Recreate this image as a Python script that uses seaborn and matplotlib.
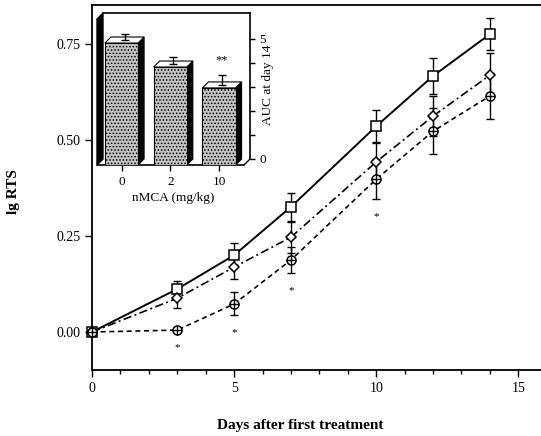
import matplotlib
matplotlib.use("Agg")
import matplotlib.pyplot as plt
from matplotlib.patches import Polygon
from matplotlib.ticker import MultipleLocator
import seaborn as sns
import pandas as pd

# ---------------- data ----------------
days = [0, 3, 5, 7, 10, 12, 14]
ctrl = [0.0, 0.112, 0.200, 0.326, 0.536, 0.667, 0.776]
ctrl_err = [0.0, 0.021, 0.031, 0.037, 0.042, 0.047, 0.042]
dose2 = [0.0, 0.088, 0.169, 0.247, 0.443, 0.5625, 0.669]
dose2_err = [0.0, 0.026, 0.031, 0.040, 0.050, 0.052, 0.057]
dose10 = [0.0, 0.005, 0.073, 0.1875, 0.398, 0.523, 0.615]
dose10_err = [0.0, 0.0, 0.030, 0.034, 0.052, 0.060, 0.060]
sig_days = [3, 5, 7, 10]

yticks = [0.0, 0.25, 0.50, 0.75]
ytick_labels = ["0.00", "0.25", "0.50", "0.75"]
xticks = [0, 5, 10, 15]

doses = ["0", "2", "10"]
auc = [5.08, 4.08, 3.21]
auc_err = [0.25, 0.28, 0.41]
auc_sig = ["", "", "**"]
auc_ticks = [0, 1, 2, 3, 4, 5]
auc_tick_labels = ["0", "", "", "", "", "5"]

# ---------------- style ----------------
sns.set_theme(style="ticks")
plt.rcParams["font.family"] = ["Liberation Serif", "DejaVu Serif"]
plt.rcParams["hatch.color"] = "black"
plt.rcParams["hatch.linewidth"] = 0.7

W, H = 541, 436
fig = plt.figure(figsize=(W / 100, H / 100), dpi=100)
fig.patch.set_facecolor("white")
fig.patch.set_edgecolor("white")

px_per_day = (W - 92) / 15.8
extra = 12  # extend axes past the figure edge (no right spine in the reference)
ax = fig.add_axes([92 / W, 66 / H, (W - 92 + extra) / W, (370 - 5) / H])
ax.set_facecolor("white")
ax.patch.set_edgecolor("none")

series = [
    (ctrl, ctrl_err, "s", 7.5, None),
    (dose2, dose2_err, "D", 5.5, (5, 2, 1.2, 2)),
    (dose10, dose10_err, "o", 6.5, (3, 2.2)),
]
for vals, errs, mk, ms, dash in series:
    ax.errorbar(days, vals, yerr=errs, fmt="none", ecolor="black",
                elinewidth=1.0, capsize=3, capthick=1.0, zorder=2, clip_on=False)
    sns.lineplot(x=days, y=vals, ax=ax, color="black", linewidth=1.4 if dash is None else 1.2,
                 marker=mk, markersize=ms, markerfacecolor="white",
                 markeredgecolor="black", markeredgewidth=1.1, zorder=3,
                 clip_on=False, errorbar=None)
    line = ax.lines[-1]
    if dash is not None:
        line.set_dashes(dash)

# plus inside circles (crossed circle marker)
ax.plot(days, dose10, linestyle="none", marker="+", markersize=6.5,
        markeredgecolor="black", markeredgewidth=1.0, zorder=4, clip_on=False)

# significance asterisks under the 10 mg/kg series
for d in sig_days:
    i = days.index(d)
    ax.text(d, dose10[i] - dose10_err[i] - 0.045, "*", ha="center", va="center",
            fontsize=8, color="black")

ax.set_xlim(0, 15.8 + extra / px_per_day)
ax.set_ylim(-0.099, 0.852)
ax.set_xticks(xticks)
ax.set_xticklabels([str(t) for t in xticks])
ax.xaxis.set_minor_locator(MultipleLocator(1))
ax.set_yticks(yticks)
ax.set_yticklabels(ytick_labels)
ax.tick_params(which="major", direction="out", length=5, width=1, labelsize=10,
               color="black", labelcolor="black")
ax.tick_params(which="minor", direction="out", length=3, width=1, color="black")
ax.tick_params(axis="y", which="minor", length=0)
for s in ["left", "bottom", "top"]:
    ax.spines[s].set_color("black")
    ax.spines[s].set_linewidth(1.3)
ax.spines["right"].set_visible(False)

ax.set_xlabel("Days after first treatment", fontsize=11, fontweight="bold", color="black")
ax.xaxis.set_label_coords((300 - 92) / (W - 92 + extra), -0.134)
ax.set_ylabel("lg RTS", fontsize=11, fontweight="bold", color="black")
ax.yaxis.set_label_coords(-(92 - 20) / (W - 92 + extra), 0.488)

# ---------------- inset (3D-looking bars) ----------------
axi = fig.add_axes([97 / W, (H - 165) / H, (250 - 97) / W, (165 - 13) / H])
axi.set_facecolor("white")
axi.set_zorder(5)

xl, xr = -0.503, 2.636
ytop = 6.08
dx, dy = 0.123, 0.25   # depth offset (back = front + dx, + dy)

sns.barplot(x=doses, y=auc, order=doses, ax=axi, color="#c4c4c4", width=0.68,
            edgecolor="black", linewidth=0.8, hatch=".....", saturation=1,
            errorbar=None, zorder=3)
axi.set_xlim(xl, xr)
axi.set_ylim(-dy, ytop)

# left black wall
axi.add_patch(Polygon([(xl, -dy), (xl + dx, 0), (xl + dx, ytop), (xl, ytop - dy)],
                      closed=True, facecolor="black", edgecolor="black", zorder=1,
                      clip_on=False))
# floor right diagonal
axi.plot([xr - dx, xr], [-dy, 0], color="black", linewidth=1.0, clip_on=False, zorder=1)

for p, v, e in zip(axi.patches[:len(doses)], auc, auc_err):
    p.set_y(-dy)
    x0 = p.get_x()
    x1 = x0 + p.get_width()
    top = v - dy
    # right side face
    axi.add_patch(Polygon([(x1, -dy), (x1 + dx, 0), (x1 + dx, v), (x1, top)],
                          closed=True, facecolor="black", edgecolor="black",
                          linewidth=0.8, zorder=2))
    # top face
    axi.add_patch(Polygon([(x0, top), (x1, top), (x1 + dx, v), (x0 + dx, v)],
                          closed=True, facecolor="white", edgecolor="black",
                          linewidth=0.8, zorder=4))

for i, (v, e, s) in enumerate(zip(auc, auc_err, auc_sig)):
    axi.errorbar([i + dx / 2], [v - dy / 2], yerr=[[0], [e]], fmt="none",
                 ecolor="black", elinewidth=1.0, capsize=3, capthick=1.0, zorder=5)
    if s:
        axi.text(i + dx / 2, v - dy / 2 + e + 0.6, s, ha="center", va="center",
                 fontsize=9, color="black")

axi.spines["left"].set_visible(False)
axi.spines["right"].set_bounds(0, ytop)
axi.spines["top"].set_bounds(xl + dx, xr)
axi.spines["bottom"].set_bounds(xl, xr - dx)
for s in ["right", "top", "bottom"]:
    axi.spines[s].set_color("black")
    axi.spines[s].set_linewidth(1.2)

axi.yaxis.tick_right()
axi.yaxis.set_label_position("right")
axi.set_yticks(auc_ticks)
axi.set_yticklabels(auc_tick_labels)
axi.tick_params(axis="y", direction="out", length=3.5, width=1, labelsize=9.5,
                pad=3, color="black", labelcolor="black")
axi.tick_params(axis="x", direction="out", length=4, width=1, labelsize=9.5,
                pad=4, color="black", labelcolor="black")
axi.set_xlabel("nMCA (mg/kg)", fontsize=9.5, color="black", labelpad=3)
axi.set_ylabel("AUC at day 14", fontsize=9.5, color="black", rotation=90)
axi.yaxis.set_label_coords((262 - 97) / (250 - 97), 0.526)
axi.yaxis.label.set_va("top")

fig.savefig("out.png", dpi=100, facecolor="white")
